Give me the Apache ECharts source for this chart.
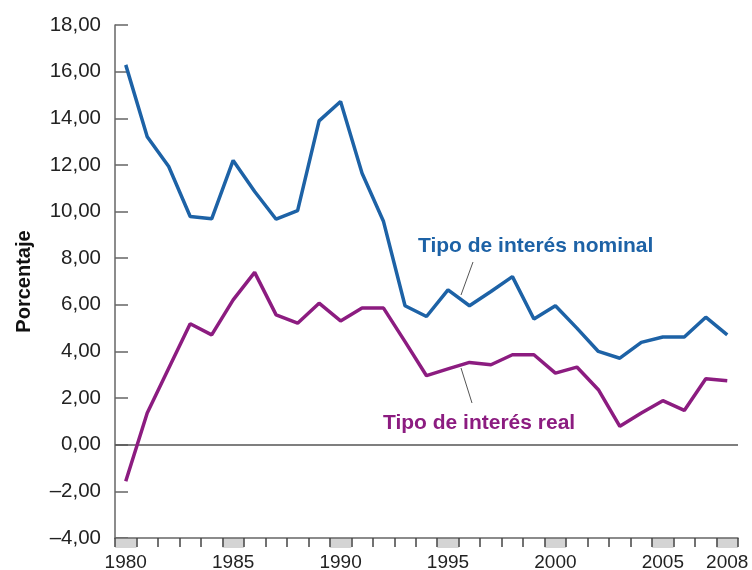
<!DOCTYPE html>
<html>
<head>
<meta charset="utf-8">
<script src="https://cdn.jsdelivr.net/npm/echarts@6/dist/echarts.min.js"></script>
<style>html,body{margin:0;padding:0;background:#fff}#c{width:752px;height:570px}</style>
</head>
<body>
<div id="c"></div>
<script>
const years = ['1980','1981','1982','1983','1984','1985','1986','1987','1988','1989','1990','1991','1992','1993','1994','1995','1996','1997','1998','1999','2000','2001','2002','2003','2004','2005','2006','2007','2008'];
const nominal = [16.29,13.21,11.93,9.79,9.69,12.19,10.86,9.67,10.04,13.89,14.72,11.64,9.57,5.96,5.50,6.64,5.96,6.57,7.21,5.39,5.96,5.00,4.00,3.71,4.39,4.62,4.62,5.47,4.71];
const real = [-1.57,1.36,3.28,5.19,4.71,6.21,7.39,5.57,5.21,6.07,5.31,5.86,5.86,4.42,2.96,3.25,3.53,3.43,3.86,3.86,3.07,3.33,2.36,0.79,1.36,1.89,1.47,2.83,2.74];
const shadedYears = ['1980','1985','1990','1995','2000','2005','2008'];
const labeledYears = ['1980','1985','1990','1995','2000','2005','2008'];
const yTicks = {min:-4, max:18, step:2};
const yName = 'Porcentaje';
const nominalLabel = 'Tipo de interés nominal';
const realLabel = 'Tipo de interés real';

const FONT = 'Liberation Sans';
const BLUE = '#1d62a6';
const MAG = '#8c1c80';
const AX = '#666';

const shadeData = years.map(y => shadedYears.includes(y) ? 1 : 0);

const chart = echarts.init(document.getElementById('c'), null, {renderer:'canvas'});
chart.setOption({
  animation:false,
  backgroundColor:'#fff',
  grid:[
    {left:115, right:14, top:25, bottom:32, outerBoundsMode:'none', containLabel:false},
    {left:115, right:14, top:538, height:10, outerBoundsMode:'none', containLabel:false}
  ],
  xAxis:[
    {type:'category', gridIndex:0, data:years, boundaryGap:true, z:10,
     axisLine:{onZero:false, lineStyle:{color:AX, width:1.5}},
     axisTick:{show:true, interval:0, inside:false, length:9, lineStyle:{color:'#444', width:1.5}},
     axisLabel:{interval:(i,v)=>labeledYears.includes(v), margin:15, fontFamily:FONT, fontSize:19, color:'#222'},
     splitLine:{show:false}},
    {type:'category', gridIndex:1, data:years, boundaryGap:true,
     axisLine:{show:false}, axisTick:{show:false}, axisLabel:{show:false}, splitLine:{show:false}}
  ],
  yAxis:[
    {type:'value', gridIndex:0, min:yTicks.min, max:yTicks.max, interval:yTicks.step,
     name:yName, nameLocation:'middle', nameGap:81, nameRotate:90,
     nameTextStyle:{fontFamily:FONT, fontSize:20, fontWeight:'bold', color:'#111'},
     axisLine:{show:true, lineStyle:{color:AX, width:1.5}},
     axisTick:{show:true, inside:true, length:13, lineStyle:{color:AX, width:1.5}},
     axisLabel:{margin:14, fontFamily:FONT, fontSize:20.5, color:'#222',
       formatter:v=>(v<0?'\u2013':'')+Math.abs(v).toFixed(2).replace('.',',')},
     splitLine:{show:false}},
    {type:'value', gridIndex:1, min:0, max:1, show:false, splitLine:{show:false}}
  ],
  series:[
    {type:'bar', xAxisIndex:1, yAxisIndex:1, data:shadeData, barWidth:'100%', barCategoryGap:'0%',
     itemStyle:{color:'#d4d4d4'}, silent:true, z:1},
    {type:'line', xAxisIndex:0, yAxisIndex:0, data:nominal, symbol:'none', smooth:false,
     lineStyle:{color:BLUE, width:3.5}, z:5,
     markLine:{silent:true, symbol:'none', label:{show:false},
       lineStyle:{color:'#555', width:1.5, type:'solid'}, data:[{yAxis:0}]}},
    {type:'line', xAxisIndex:0, yAxisIndex:0, data:real, symbol:'none', smooth:false,
     lineStyle:{color:MAG, width:3.5}, z:5}
  ],
  graphic:[
    {type:'text', left:418, top:236, style:{text:nominalLabel, fontFamily:FONT, fontSize:21, fontWeight:'bold', fill:BLUE}, z:20},
    {type:'line', shape:{x1:473, y1:262, x2:461, y2:295}, style:{stroke:'#555', lineWidth:1}, z:20},
    {type:'text', left:383, top:413, style:{text:realLabel, fontFamily:FONT, fontSize:21, fontWeight:'bold', fill:MAG}, z:20},
    {type:'line', shape:{x1:461, y1:368, x2:472, y2:403}, style:{stroke:'#555', lineWidth:1}, z:20}
  ]
});
</script>
</body>
</html>
